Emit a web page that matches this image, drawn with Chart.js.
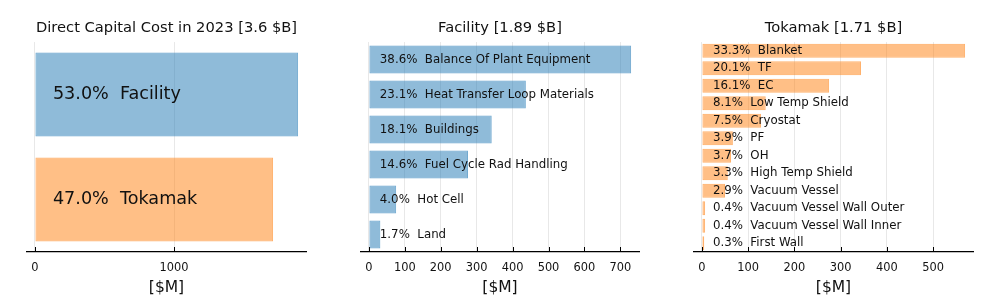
<!DOCTYPE html>
<html><head><meta charset="utf-8">
<script src="https://cdn.jsdelivr.net/npm/chart.js@4/dist/chart.umd.min.js"></script>
<style>
html,body{margin:0;padding:0;background:#fff;}
#wrap{position:relative;width:1000px;height:300px;background:#fff;}
.p{position:absolute;top:0;height:300px;}
</style></head><body>
<div id="wrap">
<div class="p" style="left:0;width:333px"><canvas id="c1" width="333" height="300"></canvas></div>
<div class="p" style="left:333px;width:333px"><canvas id="c2" width="333" height="300"></canvas></div>
<div class="p" style="left:666px;width:334px"><canvas id="c3" width="334" height="300"></canvas></div>
</div>
<script>
// ---- data ----
const overviewTitle = 'Direct Capital Cost in 2023 [3.6 $B]';
const overviewNames = ['Facility', 'Tokamak'];
const overviewPercents = ['53.0%', '47.0%'];
const overviewValues = [1892, 1712];
const overviewTicks = [0, 1000];

const facilityTitle = 'Facility [1.89 $B]';
const facilityNames = ['Balance Of Plant Equipment', 'Heat Transfer Loop Materials', 'Buildings', 'Fuel Cycle Rad Handling', 'Hot Cell', 'Land'];
const facilityPercents = ['38.6%', '23.1%', '18.1%', '14.6%', '4.0%', '1.7%'];
const facilityValues = [730, 437, 342, 276, 76, 32];
const facilityTicks = [0, 100, 200, 300, 400, 500, 600, 700];

const tokamakTitle = 'Tokamak [1.71 $B]';
const tokamakNames = ['Blanket', 'TF', 'EC', 'Low Temp Shield', 'Cryostat', 'PF', 'OH', 'High Temp Shield', 'Vacuum Vessel', 'Vacuum Vessel Wall Outer', 'Vacuum Vessel Wall Inner', 'First Wall'];
const tokamakPercents = ['33.3%', '20.1%', '16.1%', '8.1%', '7.5%', '3.9%', '3.7%', '3.3%', '2.9%', '0.4%', '0.4%', '0.3%'];
const tokamakValues = [569, 344, 275, 138, 128, 67, 63, 56, 50, 7, 7, 5];
const tokamakTicks = [0, 100, 200, 300, 400, 500];

const xLabel = '[$M]';

// ---- rendering ----
const FONT = 'DejaVu Sans';
const TXT = '#111';

const barLabels = {
  id: 'barLabels',
  afterDatasetsDraw(chart, args, opts) {
    const ctx = chart.ctx;
    const meta = chart.getDatasetMeta(0);
    const xs = chart.scales.x;
    const x0 = xs.getPixelForValue(0) + opts.offset;
    ctx.save();
    ctx.font = opts.size + 'px "' + FONT + '"';
    ctx.fillStyle = TXT;
    ctx.textBaseline = 'middle';
    ctx.textAlign = 'left';
    meta.data.forEach((bar, i) => {
      ctx.fillText(opts.labels[i], x0, bar.y);
    });
    ctx.restore();
  }
};

const innerTicks = {
  id: 'innerTicks',
  afterDraw(chart) {
    const xs = chart.scales.x, ctx = chart.ctx, b = chart.chartArea.bottom;
    ctx.save();
    ctx.strokeStyle = '#000';
    ctx.lineWidth = 1;
    xs.ticks.forEach(t => {
      const px = Math.round(xs.getPixelForValue(t.value)) + 0.5;
      ctx.beginPath(); ctx.moveTo(px, b); ctx.lineTo(px, b - 5); ctx.stroke();
    });
    ctx.restore();
  }
};

function makeChart(id, title, names, percents, values, ticks, fill, edge, labelSize, labelOffset, padL, padR) {
  const maxV = Math.max(...values);
  const labels = names.map((n, i) => percents[i] + '  ' + n);
  return new Chart(document.getElementById(id), {
    type: 'bar',
    data: {
      labels: names,
      datasets: [{
        data: values,
        backgroundColor: fill,
        borderColor: edge,
        borderWidth: 1,
        borderSkipped: false,
        barPercentage: 0.8,
        categoryPercentage: 1.0
      }]
    },
    options: {
      indexAxis: 'y',
      responsive: false,
      animation: false,
      devicePixelRatio: 1,
      layout: { padding: { left: padL, right: padR, top: 0, bottom: 0 } },
      plugins: {
        legend: { display: false },
        tooltip: { enabled: false },
        title: {
          display: true, text: title, color: TXT,
          font: { family: FONT, size: 14.7, weight: 'normal' },
          padding: { top: 19.6, bottom: 4.8 }
        },
        barLabels: { labels: labels, size: labelSize, offset: labelOffset }
      },
      scales: {
        y: { display: false, offset: true },
        x: {
          type: 'linear',
          min: -0.03 * maxV,
          max: 1.03 * maxV,
          afterBuildTicks: s => { s.ticks = ticks.map(v => ({ value: v })); },
          afterFit: s => { s.height = 48; },
          grid: { color: 'rgba(0,0,0,0.09)', lineWidth: 1, drawTicks: false },
          border: { display: true, color: '#000', width: 1.3 },
          ticks: {
            color: TXT, padding: 9, autoSkip: false, maxRotation: 0,
            font: { family: FONT, size: 11.4 },
            callback: v => String(v)
          },
          title: {
            display: true, text: xLabel, color: TXT,
            font: { family: FONT, size: 15.5 },
            padding: { top: 0, bottom: 3 }
          }
        }
      }
    },
    plugins: [barLabels, innerTicks]
  });
}

const BLUE = 'rgba(31,119,180,0.5)', BLUE_E = 'rgba(31,119,180,0.62)';
const ORANGE = 'rgba(255,127,14,0.5)', ORANGE_E = 'rgba(255,127,14,0.6)';

makeChart('c1', overviewTitle, overviewNames, overviewPercents, overviewValues, overviewTicks, [BLUE, ORANGE], [BLUE_E, ORANGE_E], 17.6, 18, 27, 27);
makeChart('c2', facilityTitle, facilityNames, facilityPercents, facilityValues, facilityTicks, BLUE, BLUE_E, 11.8, 11, 28, 27);
makeChart('c3', tokamakTitle, tokamakNames, tokamakPercents, tokamakValues, tokamakTicks, ORANGE, ORANGE_E, 11.8, 11, 28, 27);
</script>
</body></html>
